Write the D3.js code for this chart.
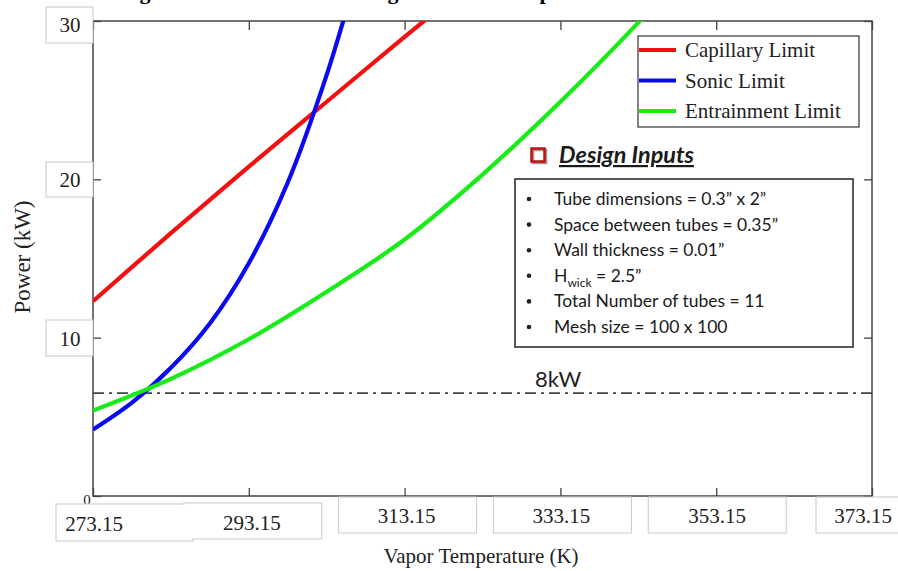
<!DOCTYPE html>
<html>
<head>
<meta charset="utf-8">
<script src="https://cdn.jsdelivr.net/npm/d3@7"></script>
<style>
  body { margin: 0; background: #fff; }
  svg { display: block; }
</style>
</head>
<body>
<div id="chart"></div>
<script>
// Axis ticks
const tempTicks = [273.15, 293.15, 313.15, 333.15, 353.15, 373.15];
const powerTicks = [0, 10, 20, 30];

// Limit curves (T in K, P in kW)
const capillaryT = [273.15, 283.15, 293.15, 303.15, 313.15, 318.15];
const capillaryP = [12.3, 16.6, 20.8, 24.9, 29.0, 31.0];
const sonicT = [273.15, 278.15, 283.15, 288.15, 293.15, 298.15, 303.15, 306.15];
const sonicP = [4.2, 5.9, 8.1, 10.9, 14.7, 19.8, 26.6, 31.5];
const entrainT = [273.15, 283.15, 293.15, 303.15, 313.15, 323.15, 333.15, 343.15, 348.15];
const entrainP = [5.4, 7.4, 9.9, 12.9, 16.2, 20.3, 24.9, 29.9, 32.6];

// Horizontal target line
const targetPower = 6.5;
const targetLabel = '8kW';

const seriesNames = ['Capillary Limit', 'Sonic Limit', 'Entrainment Limit'];
const designInputs = [
  ['Tube dimensions = 0.3\u201d x 2\u201d'],
  ['Space between tubes = 0.35\u201d'],
  ['Wall thickness = 0.01\u201d'],
  ['H', 'wick', ' = 2.5\u201d'],
  ['Total Number of tubes = 11'],
  ['Mesh size = 100 x 100']
];

let w = 898, h = 571,
serif = '"Liberation Serif", "Times New Roman", serif',
sans = 'Lato, "Open Sans", sans-serif',
colors = ['#f41010', '#0a0af0', '#16ec16'],
plot = { left: 93, right: 872, top: 21, bottom: 496 },

x = d3.scaleLinear().
domain([273.15, 373.15]).
range([plot.left, plot.right]),

y = d3.scaleLinear().
domain([0, 30]).
range([plot.bottom, plot.top]),

svg = d3.select('#chart').
append('svg').
attr('width', w).
attr('height', h);

// Title above the plot, cut by the top edge as in the source figure
svg.append('text').
attr('x', 120).
attr('y', -1).
attr('font-family', serif).
attr('font-weight', 'bold').
attr('font-size', 22).
text('Figure 4.11 - Condenser Integrated with a vapor chamber');

// Clip for curves
svg.append('clipPath').
attr('id', 'plot-clip').
append('rect').
attr('x', plot.left).
attr('y', plot.top).
attr('width', plot.right - plot.left).
attr('height', plot.bottom - plot.top);

// Inward ticks on all four sides
let tickStyle = g => {
  g.select('.domain').remove();
  g.selectAll('.tick line').attr('stroke', '#444').attr('stroke-width', 1.3);
  g.selectAll('.tick text').remove();
};
svg.append('g').
attr('transform', 'translate(0,' + plot.bottom + ')').
call(d3.axisBottom(x).tickValues(tempTicks).tickSize(-8)).
call(tickStyle);
svg.append('g').
attr('transform', 'translate(0,' + plot.top + ')').
call(d3.axisTop(x).tickValues(tempTicks).tickSize(-9)).
call(tickStyle);
svg.append('g').
attr('transform', 'translate(' + plot.left + ',0)').
call(d3.axisLeft(y).tickValues(powerTicks).tickSize(-8)).
call(tickStyle);
svg.append('g').
attr('transform', 'translate(' + plot.right + ',0)').
call(d3.axisRight(y).tickValues(powerTicks).tickSize(-8)).
call(tickStyle);

// Frame
svg.append('rect').
attr('x', plot.left).
attr('y', plot.top).
attr('width', plot.right - plot.left).
attr('height', plot.bottom - plot.top).
attr('fill', 'none').
attr('stroke', '#444').
attr('stroke-width', 1.5);

// Target dash-dot line
svg.append('line').
attr('x1', plot.left).
attr('x2', plot.right).
attr('y1', y(targetPower)).
attr('y2', y(targetPower)).
attr('stroke', '#404448').
attr('stroke-width', 1.8).
attr('stroke-dasharray', '11,5,3,5');

svg.append('text').
attr('x', 535).
attr('y', y(targetPower) - 6).
attr('font-family', sans).
attr('font-size', 22).
attr('fill', '#222').
text(targetLabel);

// Curves
let line = d3.line().
x(d => x(d[0])).
y(d => y(d[1])).
curve(d3.curveCatmullRom);

let curves = [
  d3.zip(capillaryT, capillaryP),
  d3.zip(sonicT, sonicP),
  d3.zip(entrainT, entrainP)
];

svg.append('g').
attr('clip-path', 'url(#plot-clip)').
selectAll('path').
data(curves).
enter().
append('path').
attr('d', line).
attr('fill', 'none').
attr('stroke', (d, i) => colors[i]).
attr('stroke-width', 4.2);

// Y tick labels in boxes (layout offsets per label)
let yBoxes = [
  { v: 30, top: 7, hgt: 36, base: 32 },
  { v: 20, top: 162, hgt: 35, base: 187 },
  { v: 10, top: 320, hgt: 36, base: 346 }
];
yBoxes.forEach(b => {
  svg.append('rect').
  attr('x', 46).attr('y', b.top).
  attr('width', 47).attr('height', b.hgt).
  attr('fill', '#fff').
  attr('stroke', '#c8c8c8');
  svg.append('text').
  attr('x', 70).attr('y', b.base).
  attr('text-anchor', 'middle').
  attr('font-family', serif).
  attr('font-size', 21).
  attr('fill', '#222').
  text(b.v);
});
svg.append('text').
attr('x', 87).attr('y', 505).
attr('text-anchor', 'middle').
attr('font-family', serif).
attr('font-size', 15).
attr('fill', '#222').
text(powerTicks[0]);

// X tick labels in boxes (layout offsets per tick)
let xBoxes = [
  { dx: -37, dy: 8, bw: 137, bh: 37, tx: 1, ty: 35 },
  { dx: -65, dy: 7, bw: 138, bh: 36, tx: 3, ty: 34 },
  { dx: -66, dy: 1, bw: 138, bh: 36, tx: 2, ty: 27 },
  { dx: -67, dy: 1, bw: 138, bh: 36, tx: 1, ty: 27 },
  { dx: -68, dy: 1, bw: 138, bh: 36, tx: 1, ty: 27 },
  { dx: -56, dy: 1, bw: 138, bh: 36, tx: -9, ty: 27 }
];
let xLabels = svg.append('g');
xBoxes.forEach((b, i) => {
  xLabels.append('rect').
  attr('x', x(tempTicks[i]) + b.dx).attr('y', plot.bottom + b.dy).
  attr('width', b.bw).attr('height', b.bh).
  attr('fill', '#fff').
  attr('stroke', '#c8c8c8');
});
// hide the inner edges where the first two boxes overlap
xBoxes.slice(0, 2).forEach((b, i) => {
  xLabels.append('rect').
  attr('x', x(tempTicks[i]) + b.dx + 1).attr('y', plot.bottom + b.dy + 1).
  attr('width', b.bw - 2).attr('height', b.bh - 2).
  attr('fill', '#fff');
});
xBoxes.forEach((b, i) => {
  xLabels.append('text').
  attr('x', x(tempTicks[i]) + b.tx).attr('y', plot.bottom + b.ty).
  attr('text-anchor', 'middle').
  attr('font-family', serif).
  attr('font-size', 21).
  attr('fill', '#222').
  text(tempTicks[i].toFixed(2));
});

// Axis titles
svg.append('text').
attr('x', 481).attr('y', 563).
attr('text-anchor', 'middle').
attr('font-family', serif).
attr('font-size', 21).
attr('fill', '#222').
text('Vapor Temperature (K)');

svg.append('text').
attr('transform', 'translate(30,257) rotate(-90)').
attr('text-anchor', 'middle').
attr('font-family', serif).
attr('font-size', 23).
attr('fill', '#222').
text('Power (kW)');

// Legend
let legend = svg.append('g').
attr('transform', 'translate(638,36)');
legend.append('rect').
attr('width', 221).
attr('height', 91).
attr('fill', '#fff').
attr('stroke', '#333').
attr('stroke-width', 1.2);
seriesNames.forEach((name, i) => {
  legend.append('line').
  attr('x1', 1).attr('x2', 38).
  attr('y1', 14 + i * 30.5).attr('y2', 14 + i * 30.5).
  attr('stroke', colors[i]).
  attr('stroke-width', 4);
  legend.append('text').
  attr('x', 47).attr('y', 21 + i * 30.5).
  attr('font-family', serif).
  attr('font-size', 21).
  attr('fill', '#222').
  text(name);
});

// Design inputs panel
svg.append('rect').
attr('x', 533).attr('y', 150).
attr('width', 13).attr('height', 13).
attr('fill', 'none').
attr('stroke', '#999').
attr('stroke-width', 2.5);
svg.append('rect').
attr('x', 531.5).attr('y', 148.5).
attr('width', 13).attr('height', 13).
attr('fill', 'none').
attr('stroke', '#c01010').
attr('stroke-width', 2.5);
svg.append('text').
attr('x', 559).attr('y', 163).
attr('font-family', sans).
attr('font-weight', 'bold').
attr('font-style', 'italic').
attr('font-size', 22).
attr('textLength', 135).
attr('lengthAdjust', 'spacingAndGlyphs').
attr('text-decoration', 'underline').
attr('fill', '#1a1a1a').
text('Design Inputs');

svg.append('rect').
attr('x', 515).attr('y', 179).
attr('width', 338).attr('height', 168).
attr('fill', '#fff').
attr('stroke', '#222').
attr('stroke-width', 1.5);

designInputs.forEach((parts, i) => {
  let by = 205 + i * 25.6;
  svg.append('circle').
  attr('cx', 529).attr('cy', by - 6).
  attr('r', 2.3).
  attr('fill', '#222');
  let t = svg.append('text').
  attr('x', 554).attr('y', by).
  attr('font-family', sans).
  attr('font-size', 17.5).
  attr('fill', '#1a1a1a');
  if (parts.length === 1) {
    t.text(parts[0]);
  } else {
    t.append('tspan').text(parts[0]);
    t.append('tspan').attr('font-size', 12).attr('dy', 5).text(parts[1]);
    t.append('tspan').attr('dy', -5).text(parts[2]);
  }
});
</script>
</body>
</html>
